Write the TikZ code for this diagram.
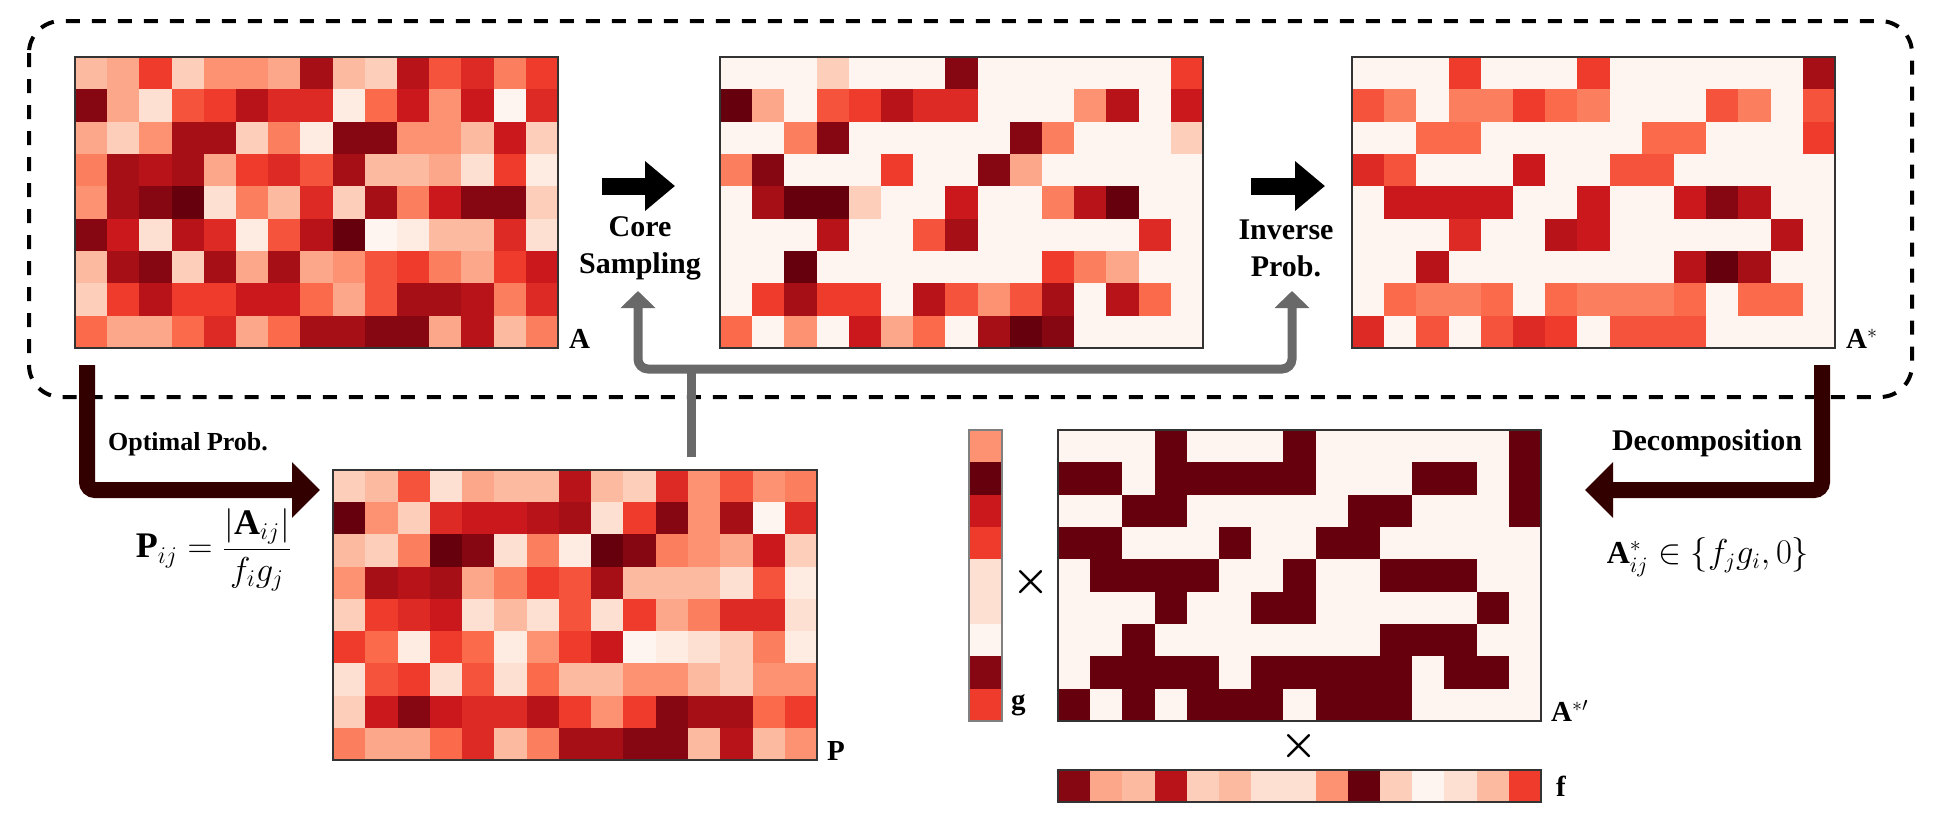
\documentclass[tikz,border=0pt]{standalone}
\usepackage{amsmath}
\usepackage{fontspec}
\setmainfont{Liberation Serif}
\usetikzlibrary{arrows.meta, fit, positioning}

% Reds scale, 0 (light) to 16 (dark)
\definecolor{rd0}{HTML}{FFF5F0}
\definecolor{rd2}{HTML}{FEE0D2}
\definecolor{rd4}{HTML}{FCBBA1}
\definecolor{rd6}{HTML}{FC9272}
\definecolor{rd8}{HTML}{FB6A4A}
\definecolor{rd10}{HTML}{EF3B2C}
\definecolor{rd12}{HTML}{CB181D}
\definecolor{rd14}{HTML}{A50F15}
\definecolor{rd16}{HTML}{67000D}
\colorlet{rd1}{rd0!50!rd2}
\colorlet{rd3}{rd2!50!rd4}
\colorlet{rd5}{rd4!50!rd6}
\colorlet{rd7}{rd6!50!rd8}
\colorlet{rd9}{rd8!50!rd10}
\colorlet{rd11}{rd10!50!rd12}
\colorlet{rd13}{rd12!50!rd14}
\colorlet{rd15}{rd14!50!rd16}
\definecolor{arrowbrown}{RGB}{51,0,0}
\definecolor{linkgray}{RGB}{105,105,105}

\tikzset{
    matborder/.style={draw=black!80, line width=0.8pt, inner sep=0pt},
    steptext/.style={font=\fontsize{15}{18.5}\selectfont\bfseries, align=center},
    mathtext/.style={font=\fontsize{16}{19}\selectfont},
    matlabel/.style={anchor=base west, inner sep=0pt, font=\fontsize{14.5}{17}\selectfont},
    blockarrow/.style={line width=8.5pt, -{Triangle[length=15pt, width=24pt]}},
    brownarrow/.style={draw=arrowbrown, line width=8pt, rounded corners=4pt,
        -{Triangle[length=14pt, width=27pt]}},
    grayline/.style={draw=linkgray, line width=4.5pt},
    grayarrow/.style={grayline, rounded corners=5pt,
        {Triangle[length=8.5pt, width=17pt]}-{Triangle[length=8.5pt, width=17pt]}},
}

% \heatmap{x0}{y0}{cell width}{cell height}{rows}
\newcommand{\heatmap}[5]{
    \foreach \row [count=\ri] in #5 {
        \foreach \v [count=\ci] in \row
            \fill[rd\v] ({#1+(\ci-1)*#3}, {#2+(\ri-1)*#4}) rectangle ++(#3+0.5, #4+0.5);
    }
}
% same cells, only zero / non zero
\newcommand{\binmap}[5]{
    \foreach \row [count=\ri] in #5 {
        \foreach \v [count=\ci] in \row {
            \ifnum\v>0 \def\cellcol{rd16}\else \def\cellcol{rd0}\fi
            \fill[\cellcol] ({#1+(\ci-1)*#3}, {#2+(\ri-1)*#4}) rectangle ++(#3+0.5, #4+0.5);
        }
    }
}

\def\dataA{{4,5,10,3,6,6,5,14,4,3,13,9,11,7,10},
    {15,5,2,9,10,13,11,11,1,8,12,6,12,0,11},
    {5,3,6,14,14,3,7,1,15,15,6,6,4,12,3},
    {7,14,13,14,5,10,11,9,14,4,4,5,2,10,1},
    {6,14,15,16,2,7,4,11,3,14,7,12,15,15,3},
    {15,12,2,13,11,1,9,13,16,0,1,4,4,11,2},
    {4,14,15,3,14,5,14,5,6,9,10,7,5,10,12},
    {3,10,13,10,10,12,12,8,5,9,14,14,13,7,11},
    {8,5,5,8,11,5,8,14,14,15,15,5,13,4,7}}
\def\dataS{{0,0,0,3,0,0,0,15,0,0,0,0,0,0,10},
    {16,5,0,9,10,13,11,11,0,0,0,6,13,0,12},
    {0,0,7,15,0,0,0,0,0,15,7,0,0,0,3},
    {7,15,0,0,0,10,0,0,15,5,0,0,0,0,0},
    {0,14,16,16,3,0,0,12,0,0,7,13,16,0,0},
    {0,0,0,13,0,0,9,14,0,0,0,0,0,11,0},
    {0,0,16,0,0,0,0,0,0,0,10,7,5,0,0},
    {0,10,14,10,10,0,13,9,6,9,14,0,13,8,0},
    {8,0,6,0,12,5,8,0,14,16,15,0,0,0,0}}
\def\dataAs{{0,0,0,10,0,0,0,10,0,0,0,0,0,0,14},
    {9,7,0,7,7,10,8,7,0,0,0,9,7,0,9},
    {0,0,8,8,0,0,0,0,0,8,8,0,0,0,10},
    {11,9,0,0,0,12,0,0,9,9,0,0,0,0,0},
    {0,12,12,12,12,0,0,12,0,0,12,15,13,0,0},
    {0,0,0,11,0,0,13,12,0,0,0,0,0,13,0},
    {0,0,13,0,0,0,0,0,0,0,13,16,14,0,0},
    {0,8,7,7,8,0,8,7,7,7,8,0,8,8,0},
    {11,0,9,0,9,11,10,0,9,9,9,0,0,0,0}}
\def\dataP{{3,4,9,2,5,4,4,13,4,3,11,6,9,6,7},
    {16,6,3,11,12,12,13,14,2,10,15,6,14,0,11},
    {4,3,7,16,15,2,7,1,16,15,7,6,5,12,3},
    {6,14,13,14,5,7,10,9,14,4,4,4,2,9,1},
    {3,10,11,12,2,4,2,9,2,10,5,7,11,11,2},
    {10,8,1,10,8,1,6,10,12,0,1,2,3,7,1},
    {2,9,10,2,9,2,8,4,4,6,6,4,3,6,6},
    {3,12,15,12,11,11,13,10,6,10,15,14,14,8,10},
    {7,5,5,8,11,4,7,14,14,15,15,4,13,4,6}}

\begin{document}
\begin{tikzpicture}[x=0.5pt, y=-0.5pt]
    \useasboundingbox (0,0) rectangle (1940,826);

    % group box round the sampling steps
    \draw[line width=2pt, dash pattern=on 7pt off 6pt, rounded corners=16pt]
        (29,21) rectangle (1912,397);

    % matrices
    \heatmap{75}{57}{32.2}{32.33}{\dataA}
    \node[matborder, fit={(75,57) (558,348)}] (A) {};
    \heatmap{720}{57}{32.2}{32.33}{\dataS}
    \node[matborder, fit={(720,57) (1203,348)}] (S) {};
    \heatmap{1352}{57}{32.2}{32.33}{\dataAs}
    \node[matborder, fit={(1352,57) (1835,348)}] (As) {};
    \heatmap{333}{470}{32.27}{32.22}{\dataP}
    \node[matborder, fit={(333,470) (817,760)}] (P) {};
    \binmap{1058}{430}{32.2}{32.33}{\dataS}
    \node[matborder, fit={(1058,430) (1541,721)}] (Ab) {};

    % factor vectors
    \foreach \v [count=\ri] in {6,16,12,10,2,2,0,15,10}
        \fill[rd\v] (969, {430+(\ri-1)*32.33}) rectangle ++(33, 32.83);
    \node[matborder, draw=black!50, fit={(969,430) (1002,721)}] (g) {};
    \foreach \v [count=\ci] in {15,5,4,13,3,4,2,2,6,16,3,0,2,4,10}
        \fill[rd\v] ({1058+(\ci-1)*32.2}, 770) rectangle ++(32.7, 32);
    \node[matborder, fit={(1058,770) (1541,802)}] (f) {};

    % matrix names
    \node[matlabel] at ([shift={(10,0)}]A.south east) {$\mathbf{A}$};
    \node[matlabel] at ([shift={(10,0)}]As.south east) {$\mathbf{A}^{*}$};
    \node[matlabel] at ([shift={(9,0)}]P.south east) {$\mathbf{P}$};
    \node[matlabel] at ([shift={(9,0)}]Ab.south east) {$\mathbf{A}^{*\prime}$};
    \node[matlabel] at ([shift={(8,-12)}]g.south east) {$\mathbf{g}$};
    \node[matlabel] at ([shift={(14,10)}]f.east) {$\mathbf{f}$};
    \node[font=\huge] (times g) at (1031,582) {$\boldsymbol{\times}$};
    \node[font=\huge] (times f) at (1299,746) {$\boldsymbol{\times}$};

    % step arrows
    \coordinate (core tail) at (602,186);
    \coordinate (core head) at (675,186);
    \draw[blockarrow] (core tail) -- (core head);
    \node[steptext] (core) at (640,248) {Core\\Sampling};
    \coordinate (inv tail) at (1251,186);
    \coordinate (inv head) at (1325,186);
    \draw[blockarrow] (inv tail) -- (inv head);
    \node[steptext] (inv) at (1286,248) {Inverse\\Prob.};

    % probabilities fed to both steps
    \coordinate (core in) at (638,291);
    \coordinate (inv in) at (1292,291);
    \coordinate (hub) at (691,369);
    \draw[grayarrow] (core in) -- (638,369) -- (1292,369) -- (inv in);
    \draw[grayline] ([shift={(116,-12)}]P.north) -- (hub);

    % optimal probabilities
    \coordinate (opt start) at (87,365);
    \coordinate (opt end) at (320,490);
    \draw[brownarrow] (opt start) |- (opt end);
    \node[steptext, font=\fontsize{13}{16}\selectfont\bfseries] (opt) at (188,444) {Optimal Prob.};
    \node[mathtext, font=\fontsize{18}{21}\selectfont] (pform) at (214,550)
        {$\mathbf{P}_{ij}=\displaystyle\frac{|\mathbf{A}_{ij}|}{f_i g_j}$};

    % decomposition
    \coordinate (dec start) at (1822,365);
    \coordinate (dec end) at (1585,490);
    \draw[brownarrow] (dec start) |- (dec end);
    \node[steptext] (dec) at (1707,443) {Decomposition};
    \node[mathtext] (dform) at (1708,557)
        {$\mathbf{A}^{*}_{ij}\in\{f_j g_i,0\}$};
\end{tikzpicture}
\end{document}
